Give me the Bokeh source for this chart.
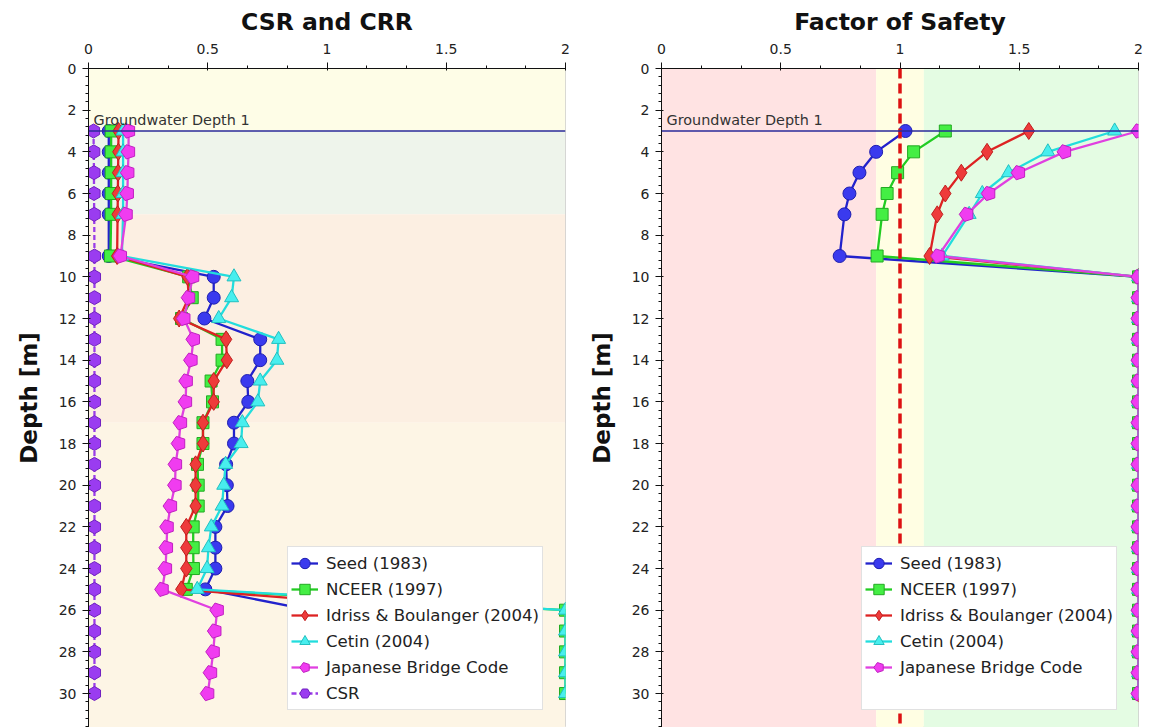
from math import pi
from bokeh.plotting import figure
from bokeh.models import (ColumnDataSource, Range1d, SingleIntervalTicker, NumeralTickFormatter,
                          BoxAnnotation, Span, Label, Legend, LegendItem)
from bokeh.layouts import row
from bokeh.embed import file_html
from bokeh.resources import INLINE

# ---------------- data ----------------
depth = [3, 4, 5, 6, 7, 9, 10, 11, 12, 13, 14, 15, 16, 17, 18, 19, 20, 21, 22, 23, 24, 25,
         26, 27, 28, 29, 30]

crr_seed = [0.085, 0.085, 0.085, 0.085, 0.085, 0.085, 0.525, 0.525, 0.486, 0.72, 0.72, 0.666,
            0.67, 0.61, 0.61, 0.577, 0.58, 0.583, 0.532, 0.532, 0.532, 0.49,
            0.93, 0.95, 0.96, 0.97, 0.98]
crr_nceer = [0.095, 0.095, 0.095, 0.095, 0.095, 0.092, 0.42, 0.435, 0.39, 0.56, 0.56, 0.514,
             0.52, 0.48, 0.48, 0.457, 0.46, 0.46, 0.439, 0.439, 0.44, 0.41,
             2.0, 2.0, 2.0, 2.0, 2.0]
crr_idriss = [0.126, 0.125, 0.124, 0.123, 0.122, 0.12, 0.415, 0.42, 0.38, 0.577, 0.58, 0.525,
              0.525, 0.48, 0.48, 0.449, 0.449, 0.449, 0.41, 0.41, 0.41, 0.389,
              1.5, 1.55, 1.6, 1.6, 1.65]
crr_cetin = [0.145, 0.145, 0.145, 0.145, 0.145, 0.14, 0.61, 0.60, 0.546, 0.797, 0.79, 0.72,
             0.71, 0.645, 0.64, 0.575, 0.567, 0.56, 0.515, 0.503, 0.497, 0.456,
             2.0, 2.0, 2.0, 2.0, 2.0]
crr_jbc = [0.168, 0.168, 0.165, 0.163, 0.158, 0.134, 0.437, 0.42, 0.40, 0.44, 0.43, 0.41,
           0.407, 0.386, 0.378, 0.365, 0.363, 0.344, 0.33, 0.327, 0.323, 0.309,
           0.54, 0.53, 0.523, 0.512, 0.50]
csr = [0.021, 0.022, 0.023, 0.023, 0.024, 0.025, 0.025, 0.025, 0.025, 0.025, 0.025, 0.025,
       0.025, 0.025, 0.025, 0.025, 0.025, 0.025, 0.025, 0.025, 0.025, 0.025,
       0.025, 0.025, 0.025, 0.025, 0.025]

fs_seed = [1.023, 0.90, 0.83, 0.788, 0.767, 0.747, 2.0, 2.0, 2.0, 2.0, 2.0, 2.0, 2.0, 2.0, 2.0,
           2.0, 2.0, 2.0, 2.0, 2.0, 2.0, 2.0, 2.0, 2.0, 2.0, 2.0, 2.0]
fs_nceer = [1.19, 1.057, 0.99, 0.946, 0.925, 0.904, 2.0, 2.0, 2.0, 2.0, 2.0, 2.0, 2.0, 2.0, 2.0,
            2.0, 2.0, 2.0, 2.0, 2.0, 2.0, 2.0, 2.0, 2.0, 2.0, 2.0, 2.0]
fs_idriss = [1.54, 1.365, 1.257, 1.19, 1.156, 1.124, 2.0, 2.0, 2.0, 2.0, 2.0, 2.0, 2.0, 2.0, 2.0,
             2.0, 2.0, 2.0, 2.0, 2.0, 2.0, 2.0, 2.0, 2.0, 2.0, 2.0, 2.0]
fs_cetin = [1.90, 1.62, 1.455, 1.345, 1.29, 1.177, 2.0, 2.0, 2.0, 2.0, 2.0, 2.0, 2.0, 2.0, 2.0,
            2.0, 2.0, 2.0, 2.0, 2.0, 2.0, 2.0, 2.0, 2.0, 2.0, 2.0, 2.0]
fs_jbc = [2.0, 1.69, 1.497, 1.372, 1.28, 1.16, 2.0, 2.0, 2.0, 2.0, 2.0, 2.0, 2.0, 2.0, 2.0,
          2.0, 2.0, 2.0, 2.0, 2.0, 2.0, 2.0, 2.0, 2.0, 2.0, 2.0, 2.0]

series_names = ["Seed (1983)", "NCEER (1997)", "Idriss & Boulanger (2004)", "Cetin (2004)",
                "Japanese Bridge Code", "CSR"]

groundwater_depth = 3.0
groundwater_label = "Groundwater Depth 1"
fs_threshold = 1.0

layer_tops = [0, 3, 7, 17]
layer_bottoms = [3, 7, 17, 40]
layer_colors = ["#FEFDE7", "#EEF4EB", "#FCEFE2", "#FDF5E5"]

fs_zone_left = [0.0, 0.9, 1.1]
fs_zone_right = [0.9, 1.1, 2.0]
fs_zone_colors = ["#FFE3E3", "#FFFEE3", "#E4FCE3"]

x_max = 2.0
depth_max = 31.63

# styles: (marker, fill, outline, line colour)
styles = [
    ("circle", "#3A3AEE", "#1E1EB0", "#2222CC"),
    ("square", "#44EE44", "#22AA22", "#22CC22"),
    ("diamond", "#EE3B3B", "#C01E1E", "#DD2222"),
    ("triangle", "#48EEEE", "#22C0C0", "#22DDDD"),
    ("pentagon", "#F03CF0", "#C020C0", "#E040E0"),
    ("hex", "#9A3CF0", "#7020C0", "#9A3CE8"),
]
sizes = {"circle": 13, "square": 12, "diamond": 17, "triangle": 14, "hex": 14}

FONT = "DejaVu Sans"


def make_fig(title, border_left, border_right):
    p = figure(frame_width=477, frame_height=659,
               x_range=Range1d(0, x_max), y_range=Range1d(depth_max, 0),
               x_axis_location="above", output_backend="svg", toolbar_location=None,
               min_border_left=border_left, min_border_right=border_right,
               min_border_top=0, min_border_bottom=0,
               title=title)
    p.title.align = "center"
    p.title.text_font = FONT
    p.title.text_font_size = "23.5px"
    p.title.text_font_style = "bold"
    p.title.text_color = "#111111"
    p.grid.visible = False
    p.outline_line_color = "#CCCCCC"
    p.background_fill_color = "white"
    p.border_fill_color = "white"

    xa = p.xaxis[0]
    xa.ticker = SingleIntervalTicker(interval=0.5, num_minor_ticks=3)
    xa.formatter = NumeralTickFormatter(format="0.[0]")
    ya = p.yaxis[0]
    ya.ticker = SingleIntervalTicker(interval=2, num_minor_ticks=5)
    ya.axis_label = "Depth [m]"
    ya.axis_label_text_font = FONT
    ya.axis_label_text_font_size = "23px"
    ya.axis_label_text_font_style = "bold"
    ya.axis_label_text_color = "#111111"
    ya.axis_label_standoff = 14
    for ax in (xa, ya):
        ax.major_label_text_font = FONT
        ax.major_label_text_font_size = "14px"
        ax.major_label_text_color = "#222222"
        ax.axis_line_color = "#111111"
        ax.major_tick_line_color = "#111111"
        ax.minor_tick_line_color = "#111111"
        ax.major_tick_out = 6
        ax.major_tick_in = 2
        ax.minor_tick_out = 3
        ax.minor_tick_in = 0
    xa.major_label_standoff = 9
    ya.major_label_standoff = 6
    return p


def add_series(p, xs, idx, dashed=False):
    marker, fill, outline, lcol = styles[idx]
    src = ColumnDataSource(dict(x=xs, y=depth))
    lr = p.line("x", "y", source=src, line_color=lcol, line_width=2.3,
                line_dash="5 3" if dashed else "solid")
    if marker == "pentagon":
        try:
            mr = p.ngon(x="x", y="y", radius=7.5, radius_units="screen", n=5, angle=pi / 2,
                        source=src, fill_color=fill, line_color=outline, line_width=1)
        except Exception:
            mr = p.scatter("x", "y", source=src, marker="hex", size=14,
                           fill_color=fill, line_color=outline, line_width=1)
    else:
        kw = {}
        if marker == "hex":
            kw["angle"] = pi / 2
        mr = p.scatter("x", "y", source=src, marker=marker, size=sizes[marker],
                       fill_color=fill, line_color=outline, line_width=1, **kw)
    return [lr, mr]


def style_legend(leg):
    leg.label_text_font = FONT
    leg.label_text_font_size = "16.6px"
    leg.label_text_color = "#222222"
    leg.glyph_width = 27
    leg.glyph_height = 26
    leg.label_height = 26
    leg.spacing = 0
    leg.padding = 3
    leg.margin = 0
    leg.label_standoff = 8
    leg.border_line_color = "#C4C4C4"
    leg.background_fill_color = "white"
    leg.background_fill_alpha = 1.0


def add_groundwater(p):
    p.add_layout(Span(location=groundwater_depth, dimension="width",
                      line_color="#2A2A9A", line_width=1.5))
    p.add_layout(Label(x=0, y=groundwater_depth, x_offset=5, y_offset=3,
                       text=groundwater_label, text_baseline="bottom",
                       text_font=FONT, text_font_size="14.4px", text_color="#333333"))


# ---------------- left: CSR and CRR ----------------
p1 = make_fig("CSR and CRR", 88, 16)
for t, b, c in zip(layer_tops, layer_bottoms, layer_colors):
    p1.add_layout(BoxAnnotation(top=t, bottom=b, fill_color=c, fill_alpha=1.0,
                                line_alpha=0, level="underlay"))
items1 = []
for i, xs in enumerate([crr_seed, crr_nceer, crr_idriss, crr_cetin, crr_jbc, csr]):
    rs = add_series(p1, xs, i, dashed=(i == 5))
    items1.append(LegendItem(label=series_names[i], renderers=rs))
add_groundwater(p1)
leg1 = Legend(items=items1, location=(199, 17))
style_legend(leg1)
p1.add_layout(leg1)

# ---------------- right: Factor of Safety ----------------
p2 = make_fig("Factor of Safety", 80, 5)
for l, r, c in zip(fs_zone_left, fs_zone_right, fs_zone_colors):
    p2.add_layout(BoxAnnotation(left=l, right=r, fill_color=c, fill_alpha=1.0,
                                line_alpha=0, level="underlay"))
items2 = []
for i, xs in enumerate([fs_seed, fs_nceer, fs_idriss, fs_cetin, fs_jbc]):
    rs = add_series(p2, xs, i)
    items2.append(LegendItem(label=series_names[i], renderers=rs))
# empty spacer row to match reference legend height
dummy = p2.scatter(x=[], y=[], size=1, fill_alpha=0, line_alpha=0)
items2.append(LegendItem(label=" ", renderers=[dummy]))
p2.add_layout(Span(location=fs_threshold, dimension="height", line_color="#DD1111",
                   line_width=3.5, line_dash="10 5"))
add_groundwater(p2)
leg2 = Legend(items=items2, location=(200, 17))
style_legend(leg2)
p2.add_layout(leg2)

layout = row(p1, p2)
open("out.html", "w").write(file_html(layout, INLINE))
